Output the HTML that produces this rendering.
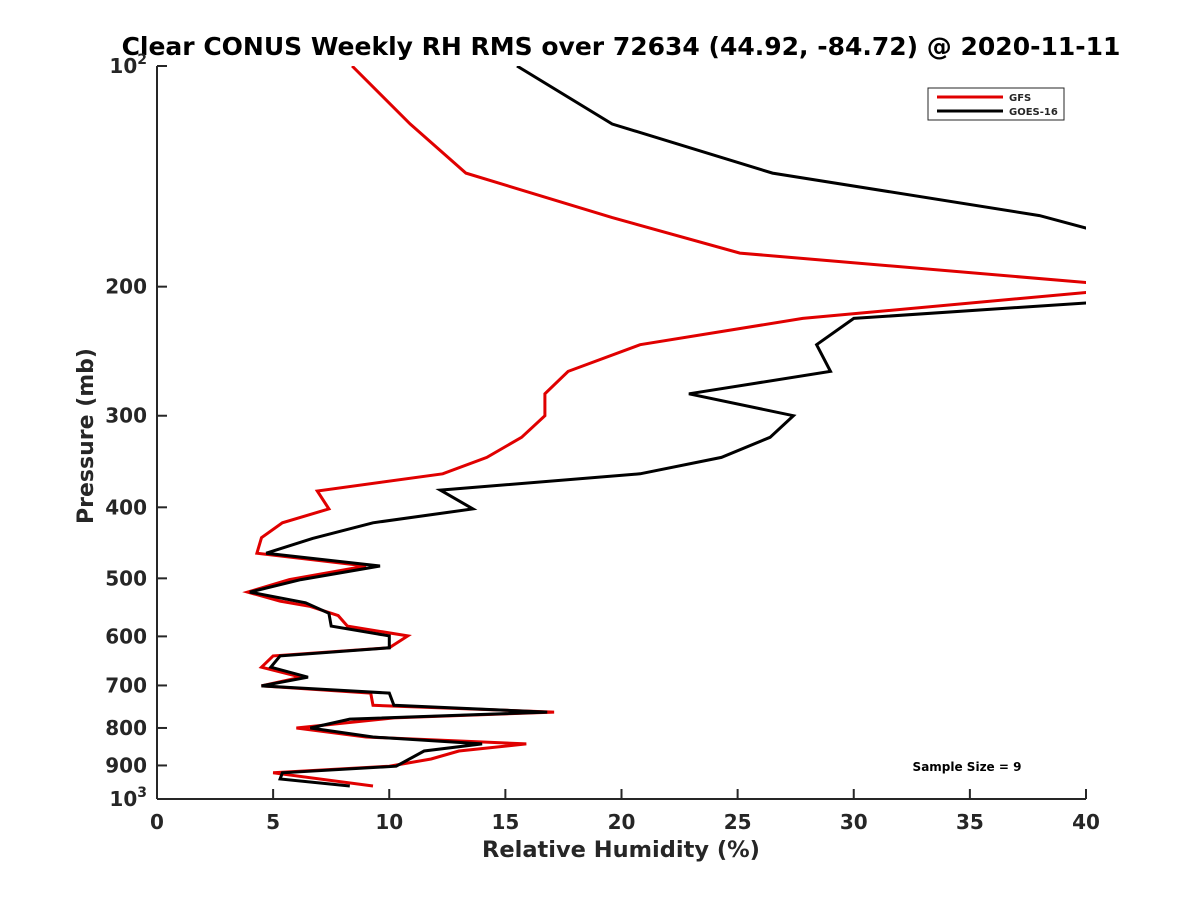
<!DOCTYPE html>
<html><head><meta charset="utf-8"><style>
body{margin:0;background:#fff;}
svg text{font-family:"DejaVu Sans","Liberation Sans",sans-serif;font-weight:bold;fill:#262626;}
</style></head><body>
<svg id="chart" width="1200" height="900" xmlns="http://www.w3.org/2000/svg">
<defs><clipPath id="clip"><rect x="157" y="66" width="929" height="733"/></clipPath></defs>
<text x="621" y="55" font-size="25" text-anchor="middle" style="fill:#000">Clear CONUS Weekly RH RMS over 72634 (44.92, -84.72) @ 2020-11-11</text>
<g id="axes"></g>
<g id="series" clip-path="url(#clip)"></g>
<g>
<rect x="928" y="88" width="136" height="32" fill="#fff" stroke="#262626" stroke-width="1"/>
<line x1="937" y1="97" x2="1003" y2="97" stroke="#e00000" stroke-width="3"/>
<text x="1009" y="101" font-size="10">GFS</text>
<line x1="937" y1="111" x2="1003" y2="111" stroke="#000" stroke-width="3"/>
<text x="1009" y="115" font-size="10">GOES-16</text>
</g>
<text x="967" y="771" font-size="12" text-anchor="middle" style="fill:#000">Sample Size = 9</text>
<text x="621" y="857" font-size="22.5" text-anchor="middle">Relative Humidity (%)</text>
<text transform="translate(93,436) rotate(-90)" font-size="22" text-anchor="middle">Pressure (mb)</text>
</svg>
<script>
const xTicks=[0,5,10,15,20,25,30,35,40];
const yTicks=[100,200,300,400,500,600,700,800,900,1000];
const gfsP=[100,120,140,161,180,198,203,221,240,261,280,300,321,342,360,380,402,420,440,462,481,502,522,537,546,562,581,599,622,638,661,682,701,717,745,761,775,800,823,841,860,882,902,921,960];
const gfsRH=[8.4,10.9,13.3,19.6,25.1,40.5,40.5,27.8,20.8,17.7,16.7,16.7,15.7,14.2,12.3,6.9,7.4,5.4,4.5,4.3,9.0,5.7,3.9,5.3,6.6,7.8,8.2,10.8,10.0,5.0,4.5,6.2,4.5,9.2,9.3,17.1,10.2,6.0,9.0,15.9,13.0,11.8,10.0,5.0,9.3];
const goesP=[100,120,140,160,168,190,210,221,240,261,280,300,321,342,360,379,402,420,441,462,481,502,522,540,558,581,599,622,638,661,682,701,717,745,761,778,800,823,841,860,902,921,939,960];
const goesRH=[15.5,19.6,26.5,38.0,40.5,42,40.5,30.0,28.4,29.0,22.9,27.4,26.4,24.3,20.8,12.2,13.6,9.3,6.7,4.7,9.6,6.2,4.0,6.4,7.4,7.5,10.0,10.0,5.3,4.9,6.5,4.5,10.0,10.2,16.8,8.3,6.6,9.3,14.0,11.5,10.3,5.4,5.3,8.3];
const X0=157,X1=1086,Y0=66,Y1=799;
const xs=v=>X0+(v-0)/40*(X1-X0);
const ys=p=>Y0+(Math.log10(p)-2)*(Y1-Y0);
const NS="http://www.w3.org/2000/svg";
function mk(tag,attrs,parent){const e=document.createElementNS(NS,tag);for(const k in attrs)e.setAttribute(k,attrs[k]);parent.appendChild(e);return e;}
const ax=document.getElementById('axes');
let l=mk('line',{x1:X0,y1:Y0,x2:X0,y2:Y1,stroke:'#262626','stroke-width':2},ax);


l=mk('line',{x1:X0,y1:Y1,x2:X1,y2:Y1,stroke:'#262626','stroke-width':2},ax);


xTicks.forEach(v=>{
  const x=xs(v);
  const t=mk('line',{x1:x,y1:Y1,x2:x,y2:Y1-10,stroke:'#262626','stroke-width':2},ax);
  
  
  const tx=mk('text',{x:x,y:829,'font-size':20,'text-anchor':'middle'},ax);
  tx.textContent=v;
  
  
});
yTicks.forEach(p=>{
  const y=ys(p);
  const t=mk('line',{x1:X0,y1:y,x2:X0+10,y2:y,stroke:'#262626','stroke-width':2},ax);
  
  
  const tx=mk('text',{x:147,y:y+7,'font-size':20,'text-anchor':'end'},ax);
  if(p===100||p===1000){
    tx.textContent='10';
    const s=mk('tspan',{dy:-9,'font-size':14},tx);s.textContent=p===100?'2':'3';
  } else tx.textContent=p;
  
  
});
const sg=document.getElementById('series');
function line(P,R,color,name){
  const d=P.map((p,i)=>(i?'L':'M')+xs(R[i]).toFixed(1)+','+ys(p).toFixed(1)).join('');
  const e=mk('path',{d:d,fill:'none',stroke:color,'stroke-width':3,'stroke-linejoin':'miter'},sg);
  
  
}
line(gfsP,gfsRH,'#e00000','gfs-line');
line(goesP,goesRH,'#000000','goes16-line');
</script>
</body></html>
